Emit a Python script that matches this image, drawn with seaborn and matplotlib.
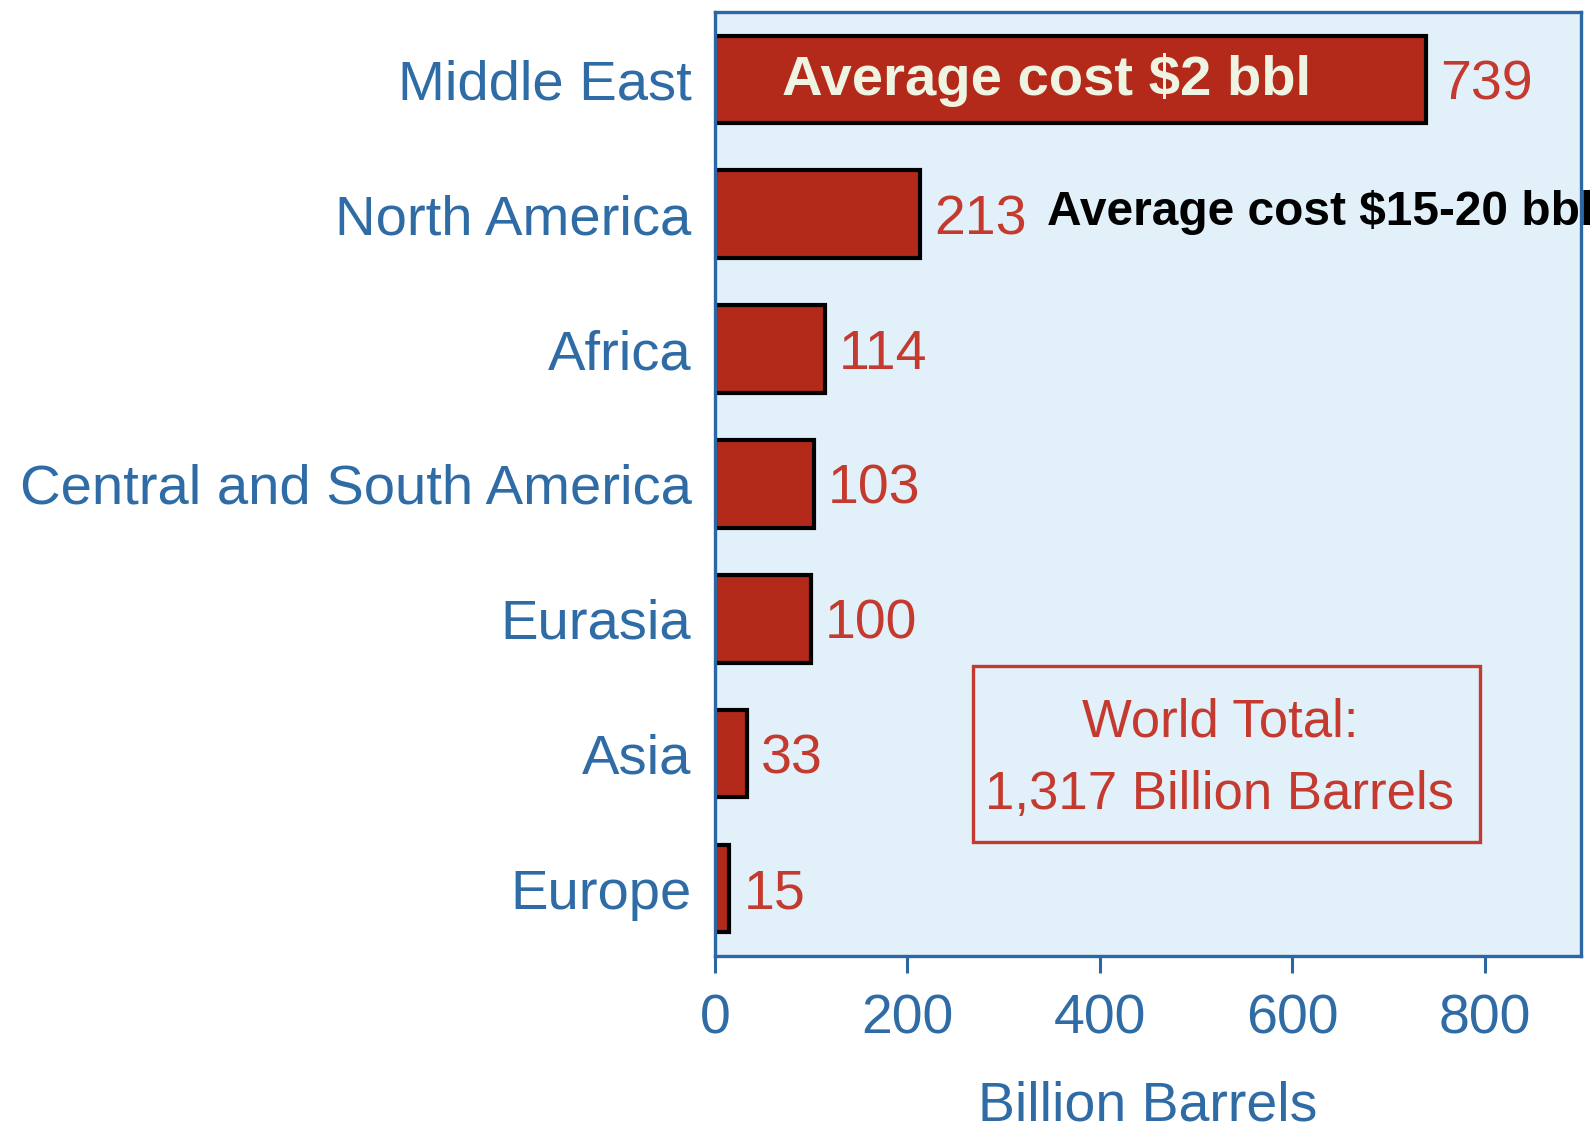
import matplotlib
matplotlib.use("Agg")
import matplotlib.pyplot as plt
import seaborn as sns
import pandas as pd
from matplotlib.patches import Rectangle

regions = ["Middle East", "North America", "Africa", "Central and South America",
           "Eurasia", "Asia", "Europe"]
reserves = [739, 213, 114, 103, 100, 33, 15]
xticks = [0, 200, 400, 600, 800]
xlabel = "Billion Barrels"
note_me = "Average cost $2 bbl"
note_na = "Average cost $15-20 bbl"
total_lines = ["World Total:", "1,317 Billion Barrels"]

BLUE = "#2b67a5"
TICK_BLUE = "#2f6ca6"
BG = "#e1f0f9"
BAR = "#b42a1a"
RED = "#c43a2e"

sns.set_theme(style="white")
plt.rcParams["font.family"] = ["Liberation Sans", "DejaVu Sans"]

df = pd.DataFrame({"region": regions, "reserves": reserves})

fig = plt.figure(figsize=(15.94, 11.34), dpi=100)
ax = fig.add_axes([0.4486, 0.157, 0.5432, 0.8325])
ax.set_facecolor(BG)

sns.barplot(data=df, x="reserves", y="region", orient="h", color=BAR,
            saturation=1, edgecolor="black", linewidth=3, width=0.65, ax=ax)

ax.set_xlim(0, 900)
ax.set_ylim(6.5, -0.5)
ax.set_xticks(xticks)
ax.set_xticklabels([str(t) for t in xticks])
ax.tick_params(axis="x", colors=BLUE, labelcolor=TICK_BLUE, labelsize=40,
               length=12, width=2.2, pad=15, direction="out", bottom=True)
ax.tick_params(axis="y", labelcolor=TICK_BLUE, labelsize=40.5, length=0, pad=17)
for lbl in ax.get_yticklabels():
    lbl.set_verticalalignment("center_baseline")
ax.set_ylabel("")
ax.set_xlabel(xlabel, fontsize=40, color=TICK_BLUE, labelpad=25)

for s in ax.spines.values():
    s.set_visible(True)
    s.set_color(BLUE)
    s.set_linewidth(2.4)

for i, v in enumerate(reserves):
    ax.annotate(str(v), xy=(v, i), xytext=(10, 0), textcoords="offset points",
                ha="left", va="center_baseline", fontsize=40, color=RED)

ax.text(70, 0.115, note_me, ha="left", va="baseline", fontsize=40.5,
        fontweight="bold", color="#eef3e2")
ax.text(345, 1.08, note_na, ha="left", va="baseline", fontsize=34.5,
        fontweight="bold", color="black", clip_on=False)

ax.add_patch(Rectangle((0.298, 0.121), 0.585, 0.186, transform=ax.transAxes,
                       fill=False, edgecolor=RED, linewidth=2.4))
ax.text(0.583, 0.247, total_lines[0], transform=ax.transAxes, ha="center",
        va="center", fontsize=38, color=RED)
ax.text(0.583, 0.171, total_lines[1], transform=ax.transAxes, ha="center",
        va="center", fontsize=38, color=RED)

fig.savefig("out.png", dpi=100)
